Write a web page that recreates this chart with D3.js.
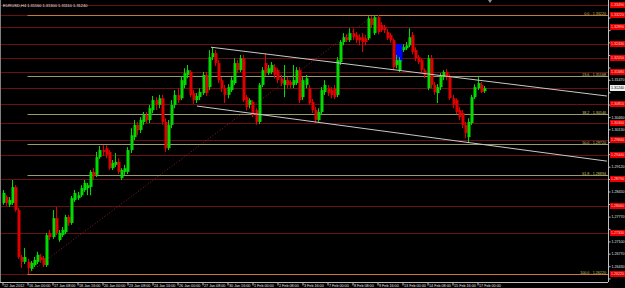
<!DOCTYPE html>
<html lang="en">
<head>
<meta charset="UTF-8">
<title>EURUSD,H4</title>
<script src="https://cdnjs.cloudflare.com/ajax/libs/d3/7.8.5/d3.min.js"></script>
<style>
body { margin: 0; background: #000; }
svg { display: block; }
text { font-family: "Liberation Sans", Arial, sans-serif; }
</style>
</head>
<body>
<div id="chart"></div>
<script>
const width = 625;
const height = 288;

// H4 bars, 12 Jan 2012 .. 17 Feb 2012
const open = [
  1.2814,1.2830,1.2809,1.2814,1.2857,1.2795,1.2668,1.2655,1.2655,1.2636,
  1.2646,1.2655,1.2668,1.2665,1.2646,1.2733,1.2722,1.2773,1.2714,1.2727,
  1.2735,1.2776,1.2760,1.2822,1.2827,1.2835,1.2849,1.2854,1.2857,1.2898,
  1.2890,1.2938,1.2957,1.2962,1.2952,1.2908,1.2917,1.2925,1.2881,1.2898,
  1.2898,1.2957,1.2992,1.3025,1.3011,1.3033,1.3052,1.3038,1.3065,1.3092,
  1.3079,1.3097,1.3033,1.2962,1.3025,1.3079,1.3106,1.3097,1.3133,1.3160,
  1.3168,1.3111,1.3092,1.3100,1.3111,1.3160,1.3127,1.3208,1.3219,1.3192,
  1.3146,1.3124,1.3106,1.3119,1.3138,1.3192,1.3173,1.3205,1.3100,1.3079,
  1.3087,1.3065,1.3033,1.3133,1.3192,1.3165,1.3168,1.3181,1.3173,1.3151,
  1.3133,1.3146,1.3141,1.3133,1.3138,1.3173,1.3100,1.3133,1.3124,1.3087,
  1.3065,1.3038,1.3060,1.3114,1.3124,1.3119,1.3124,1.3106,1.3195,1.3249,
  1.3262,1.3254,1.3273,1.3268,1.3262,1.3262,1.3259,1.3259,1.3313,1.3273,
  1.3316,1.3295,1.3289,1.3276,1.3268,1.3254,1.3187,1.3173,1.3227,1.3232,
  1.3240,1.3268,1.3227,1.3208,1.3200,1.3173,1.3124,1.3205,1.3133,1.3111,
  1.3127,1.3154,1.3168,1.3154,1.3097,1.3092,1.3065,1.3057,1.3025,1.2992,
  1.3030,1.3100,1.3124,1.3133,1.3116
];
const high = [
  1.2849,1.2835,1.2830,1.2876,1.2862,1.2800,1.2674,1.2692,1.2663,1.2657,
  1.2668,1.2682,1.2676,1.2671,1.2733,1.2741,1.2795,1.2803,1.2741,1.2749,
  1.2782,1.2782,1.2833,1.2849,1.2844,1.2862,1.2876,1.2868,1.2903,1.2908,
  1.2952,1.2968,1.2970,1.2970,1.2957,1.2930,1.2949,1.2935,1.2908,1.2917,
  1.2965,1.3016,1.3038,1.3033,1.3046,1.3060,1.3060,1.3079,1.3103,1.3100,
  1.3106,1.3106,1.3043,1.3038,1.3092,1.3119,1.3124,1.3157,1.3178,1.3187,
  1.3173,1.3119,1.3111,1.3124,1.3168,1.3168,1.3227,1.3235,1.3227,1.3200,
  1.3154,1.3133,1.3135,1.3154,1.3205,1.3200,1.3214,1.3214,1.3106,1.3097,
  1.3092,1.3070,1.3138,1.3181,1.3219,1.3187,1.3195,1.3189,1.3178,1.3160,
  1.3187,1.3154,1.3146,1.3187,1.3181,1.3181,1.3154,1.3160,1.3133,1.3095,
  1.3073,1.3070,1.3127,1.3146,1.3133,1.3127,1.3133,1.3208,1.3254,1.3273,
  1.3270,1.3286,1.3286,1.3276,1.3270,1.3273,1.3268,1.3319,1.3319,1.3322,
  1.3322,1.3303,1.3295,1.3284,1.3273,1.3259,1.3214,1.3208,1.3243,1.3249,
  1.3286,1.3276,1.3235,1.3214,1.3205,1.3178,1.3214,1.3214,1.3141,1.3135,
  1.3165,1.3173,1.3176,1.3162,1.3106,1.3097,1.3073,1.3065,1.3033,1.3043,
  1.3106,1.3135,1.3154,1.3141,1.3130
];
const low = [
  1.2809,1.2806,1.2803,1.2809,1.2790,1.2663,1.2638,1.2649,1.2622,1.2630,
  1.2641,1.2649,1.2652,1.2641,1.2641,1.2714,1.2717,1.2727,1.2709,1.2722,
  1.2730,1.2752,1.2755,1.2817,1.2822,1.2830,1.2844,1.2835,1.2835,1.2876,
  1.2884,1.2933,1.2941,1.2935,1.2903,1.2903,1.2911,1.2892,1.2876,1.2890,
  1.2892,1.2949,1.2984,1.2997,1.3003,1.3025,1.3030,1.3030,1.3057,1.3065,
  1.3070,1.3025,1.2952,1.2957,1.3016,1.3070,1.3084,1.3092,1.3124,1.3151,
  1.3100,1.3081,1.3084,1.3092,1.3106,1.3103,1.3119,1.3200,1.3184,1.3138,
  1.3114,1.3084,1.3097,1.3114,1.3133,1.3165,1.3168,1.3087,1.3065,1.3070,
  1.3046,1.3025,1.3027,1.3127,1.3157,1.3160,1.3162,1.3151,1.3138,1.3130,
  1.3100,1.3124,1.3124,1.3124,1.3133,1.3084,1.3092,1.3124,1.3079,1.3057,
  1.3030,1.3033,1.3052,1.3106,1.3103,1.3097,1.3095,1.3100,1.3187,1.3240,
  1.3249,1.3249,1.3254,1.3246,1.3240,1.3222,1.3240,1.3254,1.3286,1.3268,
  1.3270,1.3276,1.3273,1.3254,1.3246,1.3173,1.3178,1.3168,1.3222,1.3227,
  1.3235,1.3216,1.3197,1.3189,1.3165,1.3151,1.3119,1.3124,1.3106,1.3084,
  1.3119,1.3146,1.3146,1.3092,1.3070,1.3054,1.3038,1.3016,1.2989,1.2976,
  1.3025,1.3095,1.3119,1.3111,1.3111
];
const close = [
  1.2841,1.2814,1.2822,1.2857,1.2795,1.2668,1.2655,1.2668,1.2638,1.2652,
  1.2660,1.2674,1.2660,1.2646,1.2727,1.2722,1.2773,1.2733,1.2733,1.2741,
  1.2776,1.2760,1.2827,1.2841,1.2835,1.2854,1.2868,1.2862,1.2898,1.2887,
  1.2938,1.2957,1.2952,1.2944,1.2908,1.2922,1.2925,1.2898,1.2903,1.2908,
  1.2957,1.2997,1.3025,1.3011,1.3038,1.3052,1.3038,1.3070,1.3092,1.3079,
  1.3097,1.3033,1.2962,1.3025,1.3079,1.3106,1.3092,1.3146,1.3165,1.3173,
  1.3106,1.3092,1.3103,1.3114,1.3160,1.3111,1.3208,1.3219,1.3192,1.3146,
  1.3124,1.3106,1.3127,1.3146,1.3192,1.3173,1.3205,1.3092,1.3073,1.3092,
  1.3052,1.3033,1.3133,1.3173,1.3165,1.3178,1.3187,1.3160,1.3146,1.3138,
  1.3146,1.3133,1.3133,1.3146,1.3173,1.3092,1.3146,1.3151,1.3084,1.3065,
  1.3038,1.3060,1.3119,1.3133,1.3111,1.3106,1.3100,1.3200,1.3249,1.3262,
  1.3254,1.3273,1.3262,1.3254,1.3254,1.3249,1.3249,1.3313,1.3295,1.3316,
  1.3276,1.3281,1.3281,1.3259,1.3254,1.3181,1.3200,1.3200,1.3235,1.3240,
  1.3262,1.3222,1.3205,1.3195,1.3173,1.3160,1.3205,1.3133,1.3114,1.3127,
  1.3154,1.3168,1.3154,1.3097,1.3079,1.3060,1.3046,1.3025,1.3003,1.3033,
  1.3100,1.3127,1.3138,1.3114,1.3124
];

// time axis labels, one every 8 bars
const timeBars = [0,8,16,24,32,40,48,56,64,72,80,88,96,104,112,120,128,136,144,152];
const timeLabels = ["12 Jan 2012","16 Jan 00:00","17 Jan 08:00","18 Jan 16:00","20 Jan 00:00",
  "23 Jan 08:00","24 Jan 16:00","26 Jan 00:00","27 Jan 08:00","30 Jan 16:00","1 Feb 00:00",
  "2 Feb 08:00","3 Feb 16:00","7 Feb 00:00","8 Feb 08:00","9 Feb 16:00","13 Feb 00:00",
  "14 Feb 08:00","15 Feb 16:00","17 Feb 00:00"];

const priceTicks = [1.26100,1.26430,1.26770,1.27100,1.27440,1.27770,1.28110,1.28450,1.28790,
  1.29120,1.29460,1.29790,1.30130,1.30460,1.30800,1.31130,1.31470,1.31800,1.32140,1.32480,
  1.32810,1.33150];

// horizontal levels drawn on the chart
const levels = [1.3349,1.3322,1.3289,1.3243,1.3205,1.3168,1.3124,1.3081,1.3030,1.2984,
  1.2944,1.2879,1.2806,1.2733,1.2622];

// fibo retracement from the 13 Jan low to the 9 Feb high
const fiboFrom = {bar: 8, price: 1.26220};
const fiboTo = {bar: 119, price: 1.33220};
const fiboLevels = [0, 23.6, 38.2, 50, 61.8, 100];

// channel
const channelTop = [{bar: 66.7, price: 1.3235}, {bar: 193.4, price: 1.3103}];
const channelBottom = [{bar: 62.2, price: 1.3076}, {bar: 193.4, price: 1.2927}];

// blue rectangle
const box = {bar0: 125.8, bar1: 128.0, top: 1.3243, bottom: 1.3195};

const bars = open.map((o, i) => ({i, o, h: high[i], l: low[i], c: close[i]}));

const plotRight = 608;
const plotBottom = 282;

const x = d3.scaleLinear().domain([0, 154]).range([2.5, 483.75]);
const y = d3.scaleLinear().domain([1.2622, 1.3322]).range([274, 15]);

const svg = d3.select("#chart").append("svg")
    .attr("width", width)
    .attr("height", height);

svg.append("rect").attr("width", width).attr("height", height).attr("fill", "#000");

const plot = svg.append("g");

plot.append("defs").append("clipPath").attr("id", "clip")
  .append("rect").attr("x", 0).attr("y", 0).attr("width", plotRight).attr("height", plotBottom);

const g = plot.append("g").attr("clip-path", "url(#clip)");

// horizontal levels
g.selectAll("line.level")
  .data(levels)
  .enter().append("line")
    .attr("class", "level")
    .attr("x1", 0).attr("x2", plotRight)
    .attr("y1", d => Math.round(y(d)) + 0.5)
    .attr("y2", d => Math.round(y(d)) + 0.5)
    .attr("stroke", "#6a1010")
    .attr("stroke-width", 1);

// fibo
const fibPrice = lv => fiboTo.price - (fiboTo.price - fiboFrom.price) * lv / 100;

g.append("line")
  .attr("x1", x(fiboFrom.bar)).attr("y1", y(fiboFrom.price))
  .attr("x2", x(fiboTo.bar)).attr("y2", y(fiboTo.price))
  .attr("stroke", "#8a2020")
  .attr("stroke-dasharray", "1,2");

g.selectAll("line.fib")
  .data(fiboLevels)
  .enter().append("line")
    .attr("class", "fib")
    .attr("x1", x(fiboFrom.bar)).attr("x2", plotRight)
    .attr("y1", d => Math.round(y(fibPrice(d))) + 0.5)
    .attr("y2", d => Math.round(y(fibPrice(d))) + 0.5)
    .attr("stroke", d => (d === 0 || d === 100) ? "#c8783c" : "#9a9a6a")
    .attr("stroke-width", 1);

g.selectAll("text.fib")
  .data(fiboLevels)
  .enter().append("text")
    .attr("class", "fib")
    .attr("x", plotRight - 2)
    .attr("y", d => Math.round(y(fibPrice(d))) - 0.5)
    .attr("text-anchor", "end")
    .attr("fill", "#c8c864")
    .attr("font-size", "3.7px")
    .text(d => d.toFixed(1) + " - " + fibPrice(d).toFixed(5));

// blue rectangle
g.append("rect")
  .attr("x", x(box.bar0)).attr("y", y(box.top))
  .attr("width", x(box.bar1) - x(box.bar0))
  .attr("height", y(box.bottom) - y(box.top))
  .attr("fill", "#0000ff");

// candles
const up = "#00dc00";
const down = "#e00000";
const bodyW = 2;

const candle = g.selectAll("g.candle")
  .data(bars)
  .enter().append("g")
    .attr("class", "candle");

candle.append("line")
  .attr("x1", d => Math.round(x(d.i)) + 0.5)
  .attr("x2", d => Math.round(x(d.i)) + 0.5)
  .attr("y1", d => y(d.h))
  .attr("y2", d => y(d.l))
  .attr("stroke", d => d.c >= d.o ? up : down)
  .attr("stroke-width", 1);

candle.append("rect")
  .attr("x", d => Math.round(x(d.i)) - 0.5)
  .attr("width", bodyW + 1)
  .attr("y", d => y(Math.max(d.o, d.c)))
  .attr("height", d => Math.max(1, Math.abs(y(d.o) - y(d.c))))
  .attr("fill", d => d.c >= d.o ? up : down);

// channel lines
const line = d3.line().x(d => x(d.bar)).y(d => y(d.price));
[channelTop, channelBottom].forEach(pts => {
  g.append("path")
    .attr("d", line(pts))
    .attr("fill", "none")
    .attr("stroke", "#c8c8c8")
    .attr("stroke-width", 1);
});

// frame
svg.append("line")
  .attr("x1", 0.5).attr("x2", 0.5).attr("y1", 0).attr("y2", plotBottom)
  .attr("stroke", "#808080");

// price axis; labels sitting under a level tag are hidden like in the terminal
const last = bars[bars.length - 1];
const tagPrices = levels.concat([last.c]);
const hidden = p => tagPrices.some(t => Math.abs(y(t) - y(p)) < 5);

const yAxis = d3.axisRight(y)
  .tickValues(priceTicks)
  .tickSize(2)
  .tickFormat(d => hidden(d) ? "" : d3.format(".5f")(d));

const ya = svg.append("g")
  .attr("transform", `translate(${plotRight + 0.5},0)`)
  .call(yAxis);
ya.select(".domain").attr("stroke", "#c0c0c0").attr("d", `M0,0V${plotBottom}`);
ya.selectAll(".tick line").attr("stroke", "#c0c0c0");
ya.selectAll(".tick text")
  .attr("fill", "#e0e0e0")
  .attr("font-size", "3.6px")
  .attr("x", 3);

// level tags on price axis
const tags = svg.append("g");
tags.selectAll("rect")
  .data(levels)
  .enter().append("rect")
    .attr("x", plotRight + 2)
    .attr("y", d => Math.round(y(d)) - 3)
    .attr("width", width - plotRight - 2)
    .attr("height", 6)
    .attr("fill", "#e80000");
tags.selectAll("text")
  .data(levels)
  .enter().append("text")
    .attr("x", plotRight + 3)
    .attr("y", d => Math.round(y(d)) + 1.3)
    .attr("fill", "#ffd0d0")
    .attr("font-size", "3.6px")
    .text(d => d.toFixed(5));

// bid tag
svg.append("rect")
  .attr("x", plotRight + 2)
  .attr("y", Math.round(y(last.c)) - 3)
  .attr("width", width - plotRight - 2)
  .attr("height", 6)
  .attr("fill", "#f0f0f0");
svg.append("text")
  .attr("x", plotRight + 3)
  .attr("y", Math.round(y(last.c)) + 1.3)
  .attr("fill", "#000")
  .attr("font-size", "3.6px")
  .text(last.c.toFixed(5));

// time axis
const xAxis = d3.axisBottom(x)
  .tickValues(timeBars)
  .tickSize(3)
  .tickFormat((d, i) => timeLabels[i]);

const xa = svg.append("g")
  .attr("transform", `translate(0,${plotBottom + 0.5})`)
  .call(xAxis);
xa.select(".domain").attr("stroke", "#c0c0c0").attr("d", `M0,0H${plotRight}`);
xa.selectAll(".tick line").attr("stroke", "#c0c0c0");
xa.selectAll(".tick text")
  .attr("fill", "#e0e0e0")
  .attr("font-size", "3.7px")
  .attr("text-anchor", "start")
  .attr("x", 1)
  .attr("y", 1.5);

// symbol header
const f5 = d3.format(".5f");
svg.append("text")
  .attr("x", 3)
  .attr("y", 7)
  .attr("fill", "#e0e0e0")
  .attr("font-size", "4px")
  .text(`EURUSD,H4  ${f5(last.o)} ${f5(last.h)} ${f5(last.l)} ${f5(last.c)}`);

// chart shift marker
svg.append("path")
  .attr("d", `M${x(156) - 2},0L${x(156) + 2},0L${x(156)},3Z`)
  .attr("fill", "#909090");
</script>
</body>
</html>
